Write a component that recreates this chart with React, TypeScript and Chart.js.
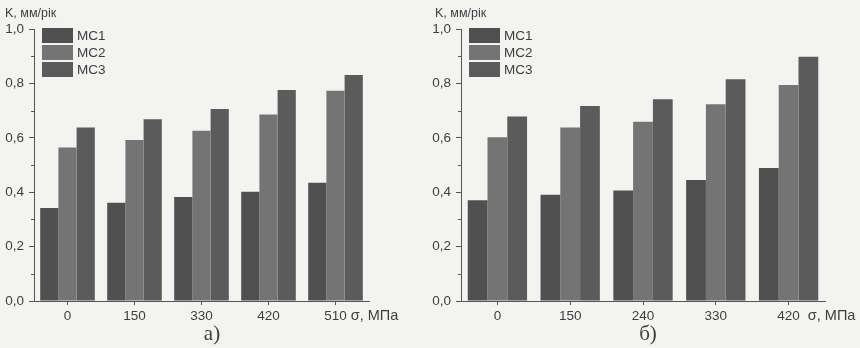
import React, { useEffect, useRef } from "react";
import { Chart, registerables } from "chart.js";

Chart.register(...registerables);

const seriesNames = ["MC1", "MC2", "MC3"];
const seriesColors = ["#505050", "#747474", "#5b5b5b"];

const labelsA = ["0", "150", "330", "420", "510"];
const aMC1 = [0.342, 0.361, 0.382, 0.402, 0.435];
const aMC2 = [0.564, 0.592, 0.626, 0.686, 0.773];
const aMC3 = [0.638, 0.668, 0.706, 0.776, 0.831];

const labelsB = ["0", "150", "240", "330", "420"];
const bMC1 = [0.37, 0.391, 0.406, 0.445, 0.489];
const bMC2 = [0.602, 0.638, 0.659, 0.723, 0.794];
const bMC3 = [0.678, 0.717, 0.742, 0.815, 0.898];

const yTickValues = [0, 0.2, 0.4, 0.6, 0.8, 1.0];
const yTitle = "K, мм/рік";
const xTitle = "σ, МПа";

const SANS = '"Liberation Sans", Arial, sans-serif';
const SERIF = '"Liberation Serif", "Times New Roman", serif';
const TEXT = "#3e3e3e";
const AXIS = "#555555";

type PanelProps = {
  labels: string[];
  series: number[][];
  caption: string;
  left: number;
  yWidth: number;
  padRight: number;
  xTitleGap: number;
  captionX: number;
};

function ChartPanel(p: PanelProps) {
  const ref = useRef<HTMLCanvasElement | null>(null);
  useEffect(() => {
    if (!ref.current) return;
    const deco = {
      id: "deco",
      afterDraw(chart: any) {
        const ctx = chart.ctx;
        const ca = chart.chartArea;
        const ys = chart.scales.y;
        const xs = chart.scales.x;
        ctx.save();
        ctx.strokeStyle = AXIS;
        ctx.lineWidth = 1;
        for (let i = 0; i < yTickValues.length - 1; i++) {
          const v = (yTickValues[i] + yTickValues[i + 1]) / 2;
          const y = Math.round(ys.getPixelForValue(v)) + 0.5;
          ctx.beginPath();
          ctx.moveTo(ca.left - 3, y);
          ctx.lineTo(ca.left, y);
          ctx.stroke();
        }
        ctx.fillStyle = TEXT;
        ctx.font = "12.5px " + SANS;
        ctx.textBaseline = "middle";
        ctx.textAlign = "left";
        ctx.fillText(yTitle, 5, 14);
        const bx = ca.left + 8;
        chart.data.datasets.forEach((ds: any, i: number) => {
          const by = ca.top - 1 + i * 17;
          ctx.fillStyle = ds.backgroundColor;
          ctx.fillRect(bx, by, 31, 15);
          ctx.fillStyle = TEXT;
          ctx.font = "13.5px " + SANS;
          ctx.fillText(ds.label, bx + 35, by + 8);
        });
        const last = p.labels.length - 1;
        ctx.font = "13.5px " + SANS;
        const lw = ctx.measureText(p.labels[last]).width;
        const lx = xs.getPixelForValue(last) + lw / 2 + p.xTitleGap;
        ctx.font = "14.5px " + SANS;
        ctx.fillText(xTitle, lx, 316);
        ctx.font = "21px " + SERIF;
        ctx.textAlign = "center";
        ctx.fillText(p.caption, p.captionX, 334);
        ctx.restore();
      },
    };
    const chart = new Chart(ref.current, {
      type: "bar",
      data: {
        labels: p.labels,
        datasets: p.series.map((d, i) => ({
          label: seriesNames[i],
          data: d,
          backgroundColor: seriesColors[i],
          borderWidth: 0,
          categoryPercentage: 0.815,
          barPercentage: 1.0,
        })),
      },
      options: {
        responsive: false,
        animation: false,
        layout: { padding: { left: 0, right: p.padRight, top: 29, bottom: 0 } },
        plugins: { legend: { display: false }, tooltip: { enabled: false } },
        scales: {
          x: {
            afterFit: (s: any) => {
              s.height = 47;
            },
            grid: {
              display: true,
              drawOnChartArea: false,
              offset: false,
              tickLength: 4,
              color: AXIS,
            },
            border: { display: true, color: AXIS, width: 1 },
            ticks: {
              color: TEXT,
              padding: 3,
              font: { family: SANS, size: 13.5 },
              maxRotation: 0,
            },
          },
          y: {
            min: 0,
            max: 1,
            afterFit: (s: any) => {
              s.width = p.yWidth;
            },
            grid: {
              display: true,
              drawOnChartArea: false,
              tickLength: 5,
              color: AXIS,
            },
            border: { display: true, color: AXIS, width: 1 },
            ticks: {
              stepSize: 0.2,
              color: TEXT,
              padding: 5,
              font: { family: SANS, size: 13.5 },
              callback: (v: any) => Number(v).toFixed(1).replace(".", ","),
            },
          },
        },
      },
      plugins: [deco],
    } as any);
    return () => chart.destroy();
  }, []);
  return (
    <canvas
      ref={ref}
      width={430}
      height={348}
      style={{ position: "absolute", left: p.left, top: 0, width: 430, height: 348 }}
    />
  );
}

export default function App() {
  return (
    <div
      style={{
        position: "fixed",
        left: 0,
        top: 0,
        width: 860,
        height: 348,
        background: "#f3f3f1",
        overflow: "hidden",
      }}
    >
      <ChartPanel
        labels={labelsA}
        series={[aMC1, aMC2, aMC3]}
        caption="а)"
        left={0}
        yWidth={34}
        padRight={61}
        xTitleGap={4}
        captionX={212}
      />
      <ChartPanel
        labels={labelsB}
        series={[bMC1, bMC2, bMC3]}
        caption="б)"
        left={430}
        yWidth={31}
        padRight={35}
        xTitleGap={8}
        captionX={218}
      />
    </div>
  );
}
